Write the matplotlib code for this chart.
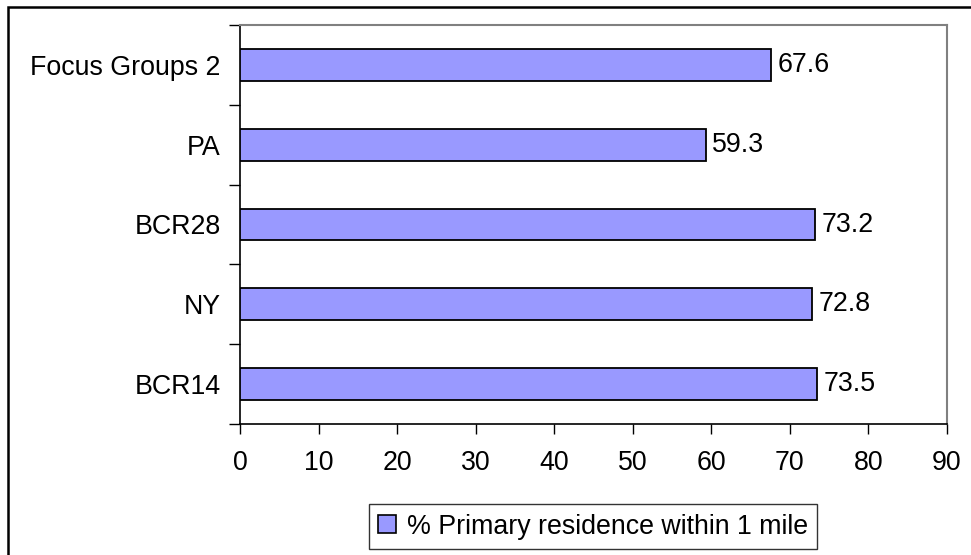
import matplotlib
matplotlib.use("Agg")
import matplotlib.pyplot as plt
from matplotlib.patches import Rectangle, Patch
import numpy as np

categories = ["BCR14", "NY", "BCR28", "PA", "Focus Groups 2"]
values = [73.5, 72.8, 73.2, 59.3, 67.6]
xticks = [0, 10, 20, 30, 40, 50, 60, 70, 80, 90]
series_name = "% Primary residence within 1 mile"

plt.rcParams["font.family"] = ["Liberation Sans", "DejaVu Sans"]
FS = 19.3

W, H = 971, 555
fig = plt.figure(figsize=(W / 100, H / 100), dpi=100)

# axes box in pixel coordinates
left, right, top, bottom = 240, 947, 25, 424
ax = fig.add_axes([left / W, (H - bottom) / H, (right - left) / W, (bottom - top) / H])

y = np.arange(len(categories))
ax.barh(y, values, height=0.4, color="#9999FF", edgecolor="black", linewidth=1.3, zorder=3)

for yi, v in zip(y, values):
    ax.text(v + 0.8, yi, f"{v:.1f}", va="center", ha="left", fontsize=FS)

ax.set_xlim(0, 90)
ax.set_ylim(-0.5, len(categories) - 0.5)
ax.set_xticks(xticks)
ax.set_xticklabels([str(t) for t in xticks], fontsize=FS)

# category separators as major ticks, labels on minor ticks
ax.set_yticks(np.arange(-0.5, len(categories), 1.0))
ax.set_yticklabels([])
ax.set_yticks(y, minor=True)
ax.set_yticklabels(categories, minor=True, fontsize=FS)
ax.tick_params(axis="y", which="major", length=8, width=1, direction="out")
ax.tick_params(axis="y", which="minor", length=0, pad=14)
ax.tick_params(axis="x", which="major", length=7, width=1, direction="out", pad=12)

for s in ("left", "bottom"):
    ax.spines[s].set_color("black")
    ax.spines[s].set_linewidth(1.2)
for s in ("top", "right"):
    ax.spines[s].set_color("#808080")
    ax.spines[s].set_linewidth(1.5)

# legend
leg_cx, leg_cy = (373 + 813) / 2 / W, 1 - (503 + 550) / 2 / H
handle = Patch(facecolor="#9999FF", edgecolor="black", linewidth=1.2)
leg = fig.legend([handle], [series_name], loc="center", bbox_to_anchor=(leg_cx, leg_cy),
                 fontsize=FS, frameon=True, fancybox=False, handlelength=0.65,
                 handleheight=0.65, handletextpad=0.4, borderpad=0.35, borderaxespad=0)
leg.get_frame().set_edgecolor("black")
leg.get_frame().set_linewidth(1.0)

# outer chart border
fig.patches.append(Rectangle((7.5 / W, -0.1), 1.2, 1 - 6.5 / H + 0.1, transform=fig.transFigure,
                             fill=False, edgecolor="black", linewidth=1.8, clip_on=False))

fig.savefig("out.png", dpi=100)
